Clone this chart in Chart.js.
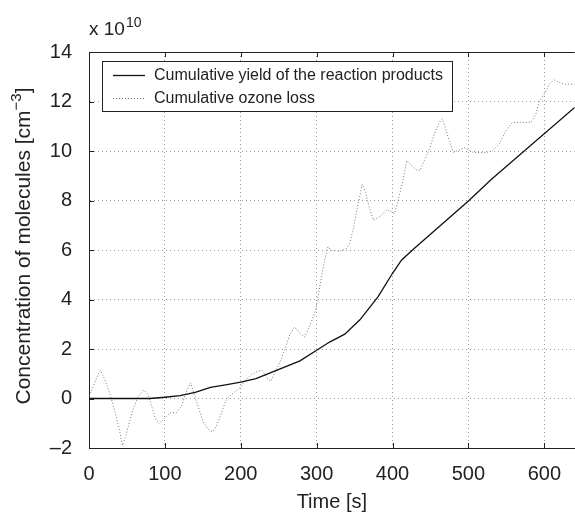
<!DOCTYPE html>
<html>
<head>
<meta charset="utf-8">
<script src="https://cdn.jsdelivr.net/npm/chart.js@4.4.0/dist/chart.umd.min.js"></script>
<style>
  html, body { margin: 0; padding: 0; background: #fff; }
  canvas { display: block; }
</style>
</head>
<body>
<canvas id="chart" width="575" height="514"></canvas>
<script>
// ── data (concentration in units of 1e10 cm^-3) ──
const yieldTime = [0, 20, 40, 60, 80, 100, 120, 140, 160, 180, 200, 220, 247, 278, 300, 317, 337, 357, 381, 400, 412, 427, 500, 530, 640];
const yieldConc = [0, 0, 0, 0, 0, 0.05, 0.12, 0.25, 0.45, 0.55, 0.66, 0.8, 1.14, 1.52, 1.95, 2.28, 2.6, 3.18, 4.12, 5.06, 5.6, 6.02, 7.98, 8.85, 11.76];

const ozoneTime = [0, 6, 10, 15, 21, 27, 31, 35.5, 40, 44, 48.7, 53, 58, 65, 72, 78, 82.5, 88, 93, 100,
  106.6, 115, 122, 127.6, 133.8, 139.5, 145, 150, 157, 162.7, 168, 174.6, 180, 185.5, 192, 198.7, 205, 214, 222.8, 228,
  234.6, 239.5, 244.7, 251, 258, 264.5, 271, 277.6, 284, 288.6, 294, 298.7, 304, 310.5, 315, 319, 330, 339, 343.4, 347.8,
  352, 356.6, 360, 364.5, 369, 375, 383, 392.5, 402.6, 407, 413.6, 418.9, 424.6, 431, 436.4, 442, 448.7, 455, 461.8, 465.5,
  469, 474, 480, 494.7, 505.7, 523, 532, 540.8, 549.6, 558, 582.5, 589, 593, 600, 606.6, 613, 619.7, 626, 640];
const ozoneConc = [0.1, 0.5, 0.83, 1.14, 0.76, 0.23, -0.17, -0.71, -1.25, -1.89, -1.5, -0.98, -0.44, 0.09, 0.34, 0.15, -0.31, -0.85, -1.0, -0.78,
  -0.58, -0.58, -0.31, 0.23, 0.63, 0.09, -0.44, -0.91, -1.25, -1.35, -1.1, -0.58, -0.1, 0.1, 0.26, 0.43, 0.7, 0.97, 1.1, 1.14,
  0.83, 0.7, 1.03, 1.43, 1.97, 2.57, 2.88, 2.64, 2.48, 2.78, 3.18, 3.58, 4.52, 5.59, 6.13, 6.0, 5.95, 6.05, 6.26, 6.8,
  7.47, 8.14, 8.65, 8.34, 7.74, 7.2, 7.34, 7.63, 7.47, 7.94, 8.81, 9.62, 9.42, 9.24, 9.21, 9.62, 10.09, 10.69, 11.16, 11.3,
  11.0, 10.49, 9.95, 10.13, 9.95, 9.93, 10.02, 10.29, 10.83, 11.16, 11.16, 11.5, 11.97, 12.3, 12.7, 12.87, 12.77, 12.7, 12.7];

const seriesLabels = ['Cumulative yield of the reaction products', 'Cumulative ozone loss'];
const xTicks = [0, 100, 200, 300, 400, 500, 600];
const yTicks = [-2, 0, 2, 4, 6, 8, 10, 12, 14];

const FONT = '"Liberation Sans", Arial, Helvetica, sans-serif';
const INK = '#222';

const toPoints = (xs, ys) => xs.map((x, i) => ({ x, y: ys[i] }));

// ── inward ticks + top frame line ──
const framePlugin = {
  id: 'frame',
  afterDraw(chart) {
    const { ctx, chartArea: a, scales: { x, y } } = chart;
    ctx.save();
    ctx.strokeStyle = INK;
    ctx.lineWidth = 1;
    ctx.beginPath();
    ctx.moveTo(a.left, a.top + 0.5);
    ctx.lineTo(a.right, a.top + 0.5);
    xTicks.forEach(v => {
      const px = Math.round(x.getPixelForValue(v)) + 0.5;
      ctx.moveTo(px, a.bottom); ctx.lineTo(px, a.bottom - 5);
      ctx.moveTo(px, a.top); ctx.lineTo(px, a.top + 5);
    });
    yTicks.forEach(v => {
      const py = Math.round(y.getPixelForValue(v)) + 0.5;
      ctx.moveTo(a.left, py); ctx.lineTo(a.left + 5, py);
    });
    ctx.stroke();
    ctx.restore();
  }
};

// ── titles, exponent label and the boxed legend ──
const textPlugin = {
  id: 'texts',
  afterDraw(chart) {
    const { ctx, chartArea: a } = chart;
    ctx.save();
    ctx.fillStyle = INK;

    // multiplier
    ctx.textBaseline = 'alphabetic';
    ctx.textAlign = 'left';
    ctx.font = '19px ' + FONT;
    ctx.fillText('x 10', 89, 35);
    const w10 = ctx.measureText('x 10').width;
    ctx.font = '14px ' + FONT;
    ctx.fillText('10', 89 + w10 + 1, 27);

    // x title
    ctx.font = '20px ' + FONT;
    ctx.textAlign = 'center';
    ctx.textBaseline = 'middle';
    ctx.fillText('Time [s]', (a.left + a.right) / 2, 502);

    // y title with superscript
    ctx.save();
    ctx.translate(24, 246);
    ctx.rotate(-Math.PI / 2);
    ctx.textAlign = 'left';
    ctx.textBaseline = 'middle';
    const main = 'Concentration of molecules [cm';
    const sup = '\u22123';
    ctx.font = '21px ' + FONT;
    const wMain = ctx.measureText(main).width;
    const wEnd = ctx.measureText(']').width;
    ctx.font = '15px ' + FONT;
    const wSup = ctx.measureText(sup).width;
    let cx = -(wMain + wSup + wEnd) / 2;
    ctx.font = '21px ' + FONT;
    ctx.fillText(main, cx, 0);
    cx += wMain;
    ctx.font = '15px ' + FONT;
    ctx.fillText(sup, cx, -7);
    cx += wSup;
    ctx.font = '21px ' + FONT;
    ctx.fillText(']', cx, 0);
    ctx.restore();

    // legend
    const bx = 102, by = 61, bw = 350, bh = 50;
    ctx.fillStyle = '#fff';
    ctx.fillRect(bx, by, bw, bh);
    ctx.strokeStyle = INK;
    ctx.lineWidth = 1;
    ctx.strokeRect(bx + 0.5, by + 0.5, bw, bh);
    const rows = [75, 98];
    chart.data.datasets.forEach((ds, i) => {
      const ry = rows[i] + 0.5;
      ctx.save();
      ctx.strokeStyle = ds.borderColor;
      ctx.lineWidth = ds.borderWidth;
      ctx.setLineDash(ds.borderDash || []);
      ctx.beginPath();
      ctx.moveTo(113, ry);
      ctx.lineTo(145, ry);
      ctx.stroke();
      ctx.restore();
      ctx.fillStyle = INK;
      ctx.font = '16px ' + FONT;
      ctx.textAlign = 'left';
      ctx.textBaseline = 'middle';
      ctx.fillText(ds.label, 154, rows[i] + 1);
    });
    ctx.restore();
  }
};

new Chart(document.getElementById('chart'), {
  type: 'line',
  data: {
    datasets: [
      {
        label: seriesLabels[0],
        data: toPoints(yieldTime, yieldConc),
        borderColor: '#111',
        borderWidth: 1.3,
        pointRadius: 0,
        tension: 0,
        fill: false
      },
      {
        label: seriesLabels[1],
        data: toPoints(ozoneTime, ozoneConc),
        borderColor: '#777',
        borderWidth: 1,
        borderDash: [1, 2],
        pointRadius: 0,
        tension: 0,
        fill: false
      }
    ]
  },
  options: {
    responsive: false,
    animation: false,
    layout: { padding: { top: 52, right: 0, left: 0, bottom: 0 } },
    plugins: { legend: { display: false }, tooltip: { enabled: false } },
    scales: {
      x: {
        type: 'linear',
        min: 0, max: 640,
        afterBuildTicks: s => { s.ticks = xTicks.map(v => ({ value: v })); },
        afterFit: s => { s.height = 66; },
        ticks: { color: INK, font: { family: FONT, size: 20 }, padding: 14, maxRotation: 0 },
        grid: { color: '#9a9a9a', lineWidth: 1, drawTicks: false },
        border: { display: true, color: INK, width: 1, dash: [1, 3] }
      },
      y: {
        min: -2, max: 14,
        afterBuildTicks: s => { s.ticks = yTicks.map(v => ({ value: v })); },
        afterFit: s => { s.width = 89; },
        ticks: {
          color: INK, font: { family: FONT, size: 20 }, padding: 17,
          callback: v => (v < 0 ? '\u2013' + Math.abs(v) : String(v))
        },
        grid: { color: '#9a9a9a', lineWidth: 1, drawTicks: false },
        border: { display: true, color: INK, width: 1, dash: [1, 3] }
      }
    }
  },
  plugins: [framePlugin, textPlugin]
});
</script>
</body>
</html>
